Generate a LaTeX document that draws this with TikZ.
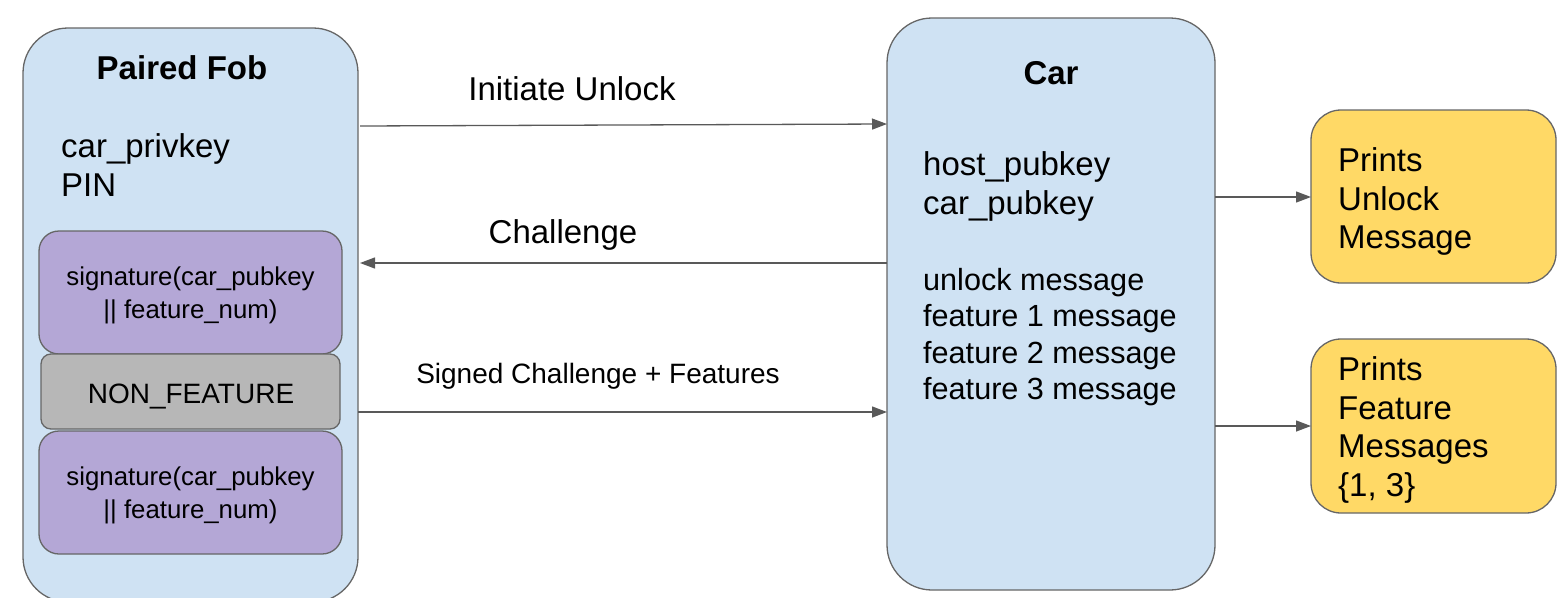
\documentclass[tikz,border=0pt]{standalone}
\usepackage{fontspec}
\setmainfont{Liberation Sans}
\usetikzlibrary{arrows.meta,calc}
\definecolor{boxblue}{HTML}{CFE2F3}
\definecolor{boxpurple}{HTML}{B4A7D6}
\definecolor{boxgray}{HTML}{B7B7B7}
\definecolor{boxyellow}{HTML}{FFD966}
\definecolor{edgegray}{HTML}{666666}
\definecolor{arrowgray}{HTML}{595959}
\begin{document}
\begin{tikzpicture}[x=1pt,y=-1pt,
  panel/.style={draw=edgegray,line width=1.3pt,rounded corners=45pt},
  sigbox/.style={draw=edgegray,line width=1.3pt,fill=boxpurple,rounded corners=20pt},
  nonbox/.style={draw=edgegray,line width=1.3pt,fill=boxgray,rounded corners=10pt},
  outbox/.style={draw=edgegray,line width=1.3pt,fill=boxyellow,rounded corners=30pt},
  bigtxt/.style={inner sep=0pt,font=\fontsize{33}{38.5}\selectfont},
  titletxt/.style={inner sep=0pt,font=\fontsize{33}{38.5}\selectfont\bfseries},
  sigtxt/.style={inner sep=0pt,align=center,font=\fontsize{25.8}{33}\selectfont},
  lbltxt/.style={inner sep=0pt,font=\fontsize{28}{33}\selectfont},
  arr/.style={draw=arrowgray,line width=1.3pt,-{Triangle[length=15pt,width=11pt]}}
]
\useasboundingbox (0,0) rectangle (1557,597);
% panels
\draw[panel,fill=boxblue] (23,28) rectangle (358,602);
\draw[panel,fill=boxblue] (887,18) rectangle (1215,590);
% fob contents
\node[titletxt,anchor=base] (fobtitle) at (182,79) {Paired Fob};
\node[bigtxt,anchor=north west,align=left] (fobkeys) at (61,133.4) {car\_privkey\\PIN};
\draw[sigbox] (39,231) rectangle (342,354);
\node[sigtxt,anchor=north] (sig1) at (190.5,266.5) {signature(car\_pubkey\\|| feature\_num)};
\draw[nonbox] (41,354) rectangle (340,429);
\node[lbltxt,anchor=base] (nonf) at (191,403) {NON\_FEATURE};
\draw[sigbox] (39,431) rectangle (342,554);
\node[sigtxt,anchor=north] (sig2) at (190.5,466.5) {signature(car\_pubkey\\|| feature\_num)};
% car contents
\node[titletxt,anchor=base] (cartitle) at (1051,84) {Car};
\node[bigtxt,anchor=north west,align=left] (carkeys) at (923,151.4) {host\_pubkey\\car\_pubkey};
\node[bigtxt,anchor=north west,align=left,font=\fontsize{30.6}{36.3}\selectfont] (carmsgs) at (923,268.1) {unlock message\\feature 1 message\\feature 2 message\\feature 3 message};
% output boxes
\draw[outbox] (1311,110) rectangle (1556,283);
\draw[outbox] (1311,339) rectangle (1556,513);
\node[bigtxt,anchor=north west,align=left] (out1) at (1338,147.4) {Prints\\Unlock\\Message};
\node[bigtxt,anchor=north west,align=left] (out2) at (1338,356.4) {Prints\\Feature\\Messages\\\{1, 3\}};
% connector end points
\coordinate (a1s) at (360,126);
\coordinate (a1e) at (887,124);
\coordinate (a2s) at (887,263);
\coordinate (a2e) at (360,263);
\coordinate (a3s) at (358,412);
\coordinate (a3e) at (887,412);
\coordinate (a4s) at (1215,197);
\coordinate (a4e) at (1311,197);
\coordinate (a5s) at (1215,426);
\coordinate (a5e) at (1311,426);
\draw[arr] (a1s) -- (a1e);
\draw[arr] (a2s) -- (a2e);
\draw[arr] (a3s) -- (a3e);
\draw[arr] (a4s) -- (a4e);
\draw[arr] (a5s) -- (a5e);
% arrow labels
\node[bigtxt,anchor=base] (l1) at (572,100) {Initiate Unlock};
\node[bigtxt,anchor=base] (l2) at (563,243) {Challenge};
\node[lbltxt,anchor=base] (l3) at (598,383) {Signed Challenge + Features};
\end{tikzpicture}
\end{document}
